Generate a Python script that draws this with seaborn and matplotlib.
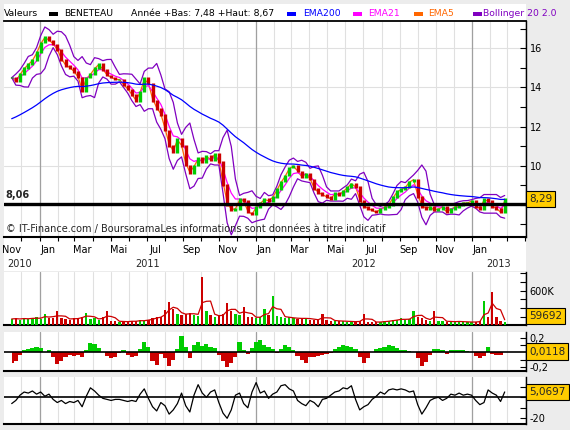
import numpy as np
import pandas as pd
import matplotlib
matplotlib.use('Agg')
import matplotlib.pyplot as plt
import matplotlib.dates as mdates
import matplotlib.ticker as mticker
from matplotlib.patches import Rectangle
from matplotlib.transforms import blended_transform_factory
import seaborn as sns

# Weekly values (BENETEAU, Nov 2010 - Feb 2013)
dates = pd.date_range('2010-11-15', periods=120, freq='7D')

closes = [
    14.5, 14.3, 14.7, 15.0, 15.2, 15.4, 15.8, 16.3, 16.6, 16.4,
    16.2, 15.9, 15.4, 15.1, 15.0, 14.8, 14.5, 13.8, 14.5, 14.7,
    15.0, 15.2, 14.9, 14.6, 14.5, 14.4, 14.4, 14.1, 13.9, 13.6,
    13.3, 13.8, 14.5, 14.2, 13.3, 12.9, 12.6, 11.8, 11.0, 10.7,
    11.4, 11.0, 10.0, 9.6, 10.0, 10.4, 10.2, 10.5, 10.3, 10.6,
    10.2, 9.0, 8.0, 7.7, 7.8, 8.3, 8.2, 7.6, 7.5, 7.9,
    8.1, 8.3, 8.2, 8.4, 8.8, 9.2, 9.5, 9.9, 10.0, 9.7,
    9.4, 9.6, 9.3, 8.8, 8.6, 8.5, 8.4, 8.3, 8.6, 8.5,
    8.7, 8.9, 9.1, 8.9, 8.2, 7.9, 7.8, 7.7, 7.6, 7.8,
    7.9, 8.0, 8.4, 8.7, 8.8, 8.9, 9.2, 9.3, 8.4, 7.9,
    7.8, 7.9, 7.7, 7.8, 7.9, 7.6, 7.8, 7.9, 8.0, 8.1,
    8.1, 8.2, 7.9, 7.8, 8.3, 8.2, 7.9, 7.8, 7.6, 8.29,
]

volumes_k = [
    110, 120, 100, 130, 110, 120, 140, 110, 200, 120,
    130, 240, 120, 110, 100, 130, 120, 150, 210, 110,
    120, 100, 140, 240, 80, 70, 60, 70, 60, 80,
    70, 90, 80, 100, 130, 150, 140, 260, 400, 280,
    200, 180, 200, 220, 180, 170, 830, 250, 180, 150,
    170, 200, 380, 250, 200, 180, 320, 150, 140, 130,
    150, 280, 180, 510, 170, 150, 130, 140, 120, 110,
    130, 120, 100, 100, 90, 200, 100, 80, 70, 80,
    70, 60, 70, 60, 70, 200, 60, 50, 60, 60,
    70, 80, 90, 100, 120, 90, 110, 250, 150, 120,
    100, 80, 250, 80, 70, 60, 70, 60, 70, 60,
    50, 60, 60, 70, 420, 150, 575, 150, 80, 60,
]

macd_hist = [
    -0.15, -0.12, -0.04, 0.03, 0.05, 0.06, 0.07, 0.06, 0.0, 0.03,
    -0.06, -0.16, -0.12, -0.07, -0.04, -0.05, -0.04, -0.06, 0.03, 0.13,
    0.12, 0.06, 0.0, -0.05, -0.08, -0.06, -0.01, 0.03, -0.04, -0.06,
    -0.05, 0.05, 0.14, 0.08, -0.12, -0.17, -0.02, -0.08, -0.19, -0.10,
    0.04, 0.23, 0.08, -0.08, 0.10, 0.15, 0.09, 0.11, 0.07, 0.06,
    -0.04, -0.12, -0.21, -0.15, -0.06, 0.14, 0.03, -0.02, 0.06, 0.14,
    0.17, 0.10, 0.07, 0.04, -0.01, 0.05, 0.10, 0.08, 0.03, -0.05,
    -0.10, -0.15, -0.07, -0.06, -0.05, -0.03, -0.02, -0.01, 0.05, 0.07,
    0.10, 0.09, 0.07, 0.05, -0.06, -0.15, -0.08, 0.01, 0.04, 0.06,
    0.08, 0.10, 0.09, 0.06, 0.03, 0.03, 0.02, 0.01, -0.08, -0.19,
    -0.13, -0.04, 0.04, 0.04, 0.03, -0.02, 0.03, 0.03, 0.03, 0.03,
    0.02, 0.01, -0.05, -0.08, -0.05, 0.07, -0.02, -0.03, -0.04, 0.0118,
]

momentum = [
    -6, -3, 2, 5, 4, 6, 3, 5, 1, 3,
    -2, -5, -3, -6, -4, -5, -3, -9, 1, 9,
    6, 2, -1, -2, -3, -2, -2, -3, -4, -3,
    -4, 3, 8, -1, -9, -13, -5, -8, -16, -12,
    -6, 4, -8, -14, 2, 12, 4, 0, 5, 7,
    -5, -15, -20, -12, 2, 4, -6, -10, 5, 14,
    4, 6, -1, 3, 5, 11, 12, 8, 6, -3,
    -6, -8, -3, -5, -9, -2, -1, 2, 5, 6,
    9, 8, 11, -2, -12, -9, -7, -2, 1, 5,
    3, 7, 8, 7, 8, 7, 5, 6, -7, -16,
    -10, -3, -1, 0, -3, -1, 3, 2, 4, 2,
    3, 2, -3, -7, -5, 7, 4, 2, -4, 5.0697,
]

ema200_start = 12.4
ref_line = 8.06
last_volume = 59692
month_names = {1: 'Jan', 3: 'Mar', 5: 'Mai', 7: 'Jul', 9: 'Sep', 11: 'Nov'}
month_label_dates = pd.date_range('2010-11-01', '2013-01-01', freq='2MS') + pd.Timedelta(days=14)
year_labels = ['2010', '2011', '2012', '2013']
year_pos = pd.to_datetime(['2010-11-28', '2011-07-02', '2012-07-01', '2013-02-14'])

GREEN = '#00cc00'
RED = '#cc0000'

df = pd.DataFrame({'date': dates, 'close': closes, 'vol': np.array(volumes_k) * 1000,
                   'macd': macd_hist, 'mom': momentum})
df['open'] = df['close'].shift(1).fillna(df['close'])
df['up'] = df['close'] >= df['open']

# indicators (daily periods converted to weeks)
ema = [ema200_start]
for c in df['close'][1:]:
    ema.append(ema[-1] + 2 / 41 * (c - ema[-1]))
df['ema200'] = ema
df['ema21'] = df['close'].ewm(span=4.3, adjust=False).mean()
df['ema5'] = df['close'].ewm(span=1.3, adjust=False).mean()
mid = df['close'].rolling(4, min_periods=1).mean()
sd = df['close'].rolling(4, min_periods=2).std(ddof=1).fillna(0)
df['bb_up'] = mid + 2 * sd
df['bb_dn'] = mid - 2 * sd
df['vol_ma'] = df['vol'].rolling(3, min_periods=1).mean()

sns.set_theme(style='white')
plt.rcParams['font.family'] = ['DejaVu Sans']
plt.rcParams['font.size'] = 7

W, H = 570, 430
fig = plt.figure(figsize=(W / 100, H / 100), dpi=100, facecolor='#ececec')


def fx(x):
    return x / W


def fy(y):
    return 1 - y / H


def panel(top, bottom):
    ax = fig.add_axes([fx(4), fy(bottom), (526 - 4) / W, (bottom - top) / H])
    ax.set_facecolor('white')
    return ax


fig.add_artist(Rectangle((fx(4), fy(271)), (526 - 4) / W, (271 - 4) / H,
                         transform=fig.transFigure, fc='white', ec='none', zorder=0))

ax = panel(20.7, 237.3)
ax_vol = panel(272, 325.3)
ax_macd = panel(332, 371)
ax_mom = panel(377, 424.3)
axes = [ax, ax_vol, ax_macd, ax_mom]

# price panel
lo = np.minimum(df['open'], df['close'])
hi = np.maximum(df['open'], df['close'])
cols = np.where(df['up'], GREEN, RED)
sns.lineplot(x=df['date'], y=df['ema5'], ax=ax, color='#ff6600', lw=0.9, zorder=2)
sns.lineplot(x=df['date'], y=df['ema21'], ax=ax, color='#ff00ff', lw=0.9, zorder=2)
sns.lineplot(x=df['date'], y=df['bb_up'], ax=ax, color='#8000c0', lw=0.9, zorder=2)
sns.lineplot(x=df['date'], y=df['bb_dn'], ax=ax, color='#8000c0', lw=0.9, zorder=2)
ax.vlines(df['date'], lo - 0.04, hi + 0.04, colors=cols, lw=2.4, zorder=3)
sns.lineplot(x=df['date'], y=df['ema200'], ax=ax, color='#0000ff', lw=0.9, zorder=4)
ax.axhline(ref_line, color='black', lw=2.4, zorder=5)
ax.annotate('8,06', xy=(0, ref_line), xycoords=blended_transform_factory(ax.transAxes, ax.transData),
            xytext=(1, 2.5), textcoords='offset points', va='bottom', ha='left',
            fontsize=7, fontweight='bold', zorder=6)
ax.text(2 / 522, 0.038, '© IT-Finance.com / BoursoramaLes informations sont données à titre indicatif',
        transform=ax.transAxes, va='center', ha='left', fontsize=7)
ax.set_ylim(6.34, 17.41)
ax.set_yticks([8, 10, 12, 14, 16])
ax.set_yticklabels(['', '10', '12', '14', '16'])
ax.set_yticks([7, 9, 11, 13, 15, 17], minor=True)
ax.yaxis.grid(True, which='major', color='#e0e0e0', lw=0.8)

# volume panel
ax_vol.bar(df['date'], df['vol'], width=4, color=cols, lw=0, zorder=3)
sns.lineplot(x=df['date'], y=df['vol_ma'], ax=ax_vol, color=RED, lw=0.9, zorder=4)
ax_vol.set_ylim(0, 925000)
ax_vol.set_yticks([600000])
ax_vol.set_yticklabels(['600K'])
ax_vol.set_yticks([150000, 300000, 450000, 750000, 900000], minor=True)

# macd panel
m = df['macd'].values
ax_macd.fill_between(df['date'], 0, np.clip(m, 0, None), step='mid', color=GREEN, lw=0, zorder=3)
ax_macd.fill_between(df['date'], 0, np.clip(m, None, 0), step='mid', color=RED, lw=0, zorder=3)
ax_macd.axhline(0, color='black', lw=1.2, zorder=4)
ax_macd.set_ylim(-0.26, 0.284)
ax_macd.set_yticks([-0.2, 0.2])
ax_macd.set_yticklabels(['-0,2', '0,2'])
ax_macd.set_yticks([-0.1, 0.1], minor=True)

# momentum panel
sns.lineplot(x=df['date'], y=df['mom'], ax=ax_mom, color='black', lw=0.9, zorder=4)
ax_mom.axhline(0, color='black', lw=1.2, zorder=3)
ax_mom.set_ylim(-25.7, 19.3)
ax_mom.set_yticks([-20])
ax_mom.set_yticklabels(['-20'])
ax_mom.set_yticks([-10, 0, 10], minor=True)

for a in axes:
    a.set_xlim(pd.Timestamp('2010-11-02'), pd.Timestamp('2013-04-02'))
    a.set_xlabel('')
    a.set_ylabel('')
    a.xaxis.set_major_locator(mdates.MonthLocator())
    a.xaxis.set_major_formatter(mticker.NullFormatter())
    a.grid(True, axis='x', which='major', color='#e0e0e0', lw=0.8)
    a.set_axisbelow(True)
    for yr in ['2011', '2012', '2013']:
        a.axvline(pd.Timestamp(yr + '-01-01'), color='#a0a0a0', lw=0.9, zorder=1)
    a.yaxis.set_ticks_position('right')
    a.tick_params(axis='y', which='both', direction='in', length=4, width=0.8,
                  colors='black', labelsize=7, pad=2.5, right=True, left=False)
    for s in ['left', 'top']:
        a.spines[s].set_visible(False)
    a.spines['right'].set_color('black')
    a.spines['right'].set_linewidth(1)
    a.spines['bottom'].set_color('black')
    a.spines['bottom'].set_linewidth(1.5)
    if a is not ax:
        a.tick_params(axis='x', which='both', length=0, labelbottom=False)

ax.spines['top'].set_visible(True)
ax.spines['top'].set_color('black')
ax.spines['top'].set_linewidth(1.3)
ax.xaxis.set_minor_locator(mticker.FixedLocator(mdates.date2num(month_label_dates)))
ax.xaxis.set_minor_formatter(mticker.FuncFormatter(lambda v, p: month_names.get(mdates.num2date(v).month, '')))
ax.tick_params(axis='x', which='major', direction='out', length=3, width=0.8, color='black', bottom=True)
ax.tick_params(axis='x', which='minor', length=0, pad=5.5, labelsize=7, labelcolor='black', bottom=True)
xt = blended_transform_factory(ax.transData, ax.transAxes)
for lab, pos in zip(year_labels, year_pos):
    ax.text(pos, -0.123, lab, transform=xt, ha='center', va='center', fontsize=7)

# last value boxes
box = dict(boxstyle='square,pad=0.3', fc='#ffcc00', ec='black', lw=0.8)


def last_box(a, y, txt, coords='data'):
    tr = blended_transform_factory(a.transAxes, a.transData if coords == 'data' else a.transAxes)
    a.text(1 + 3 / 522, y, txt, transform=tr, ha='left', va='center', fontsize=7.5, bbox=box, zorder=10)


last_box(ax, closes[-1], '8,29')
last_box(ax_vol, 0.175, str(last_volume), coords='axes')
last_box(ax_macd, macd_hist[-1], '0,0118')
last_box(ax_mom, momentum[-1], '5,0697')

# header
ty = fy(13.5)
hs = 6.7
fig.text(fx(4), ty, 'Valeurs', ha='left', va='center', fontsize=hs, color='black')
header = [(49, 64, 'BENETEAU', 'black'), (287, 303, 'EMA200', '#0000ff'), (353, 368, 'EMA21', '#ff00ff'),
          (414, 428, 'EMA5', '#ff6600'), (473, 483, 'Bollinger 20 2.0', '#8000c0')]
for sx, tx, txt, c in header:
    fig.add_artist(Rectangle((fx(sx), fy(15.5)), 8.5 / W, 3.5 / H, transform=fig.transFigure,
                             fc=c, ec='none', zorder=5))
    fig.text(fx(tx), ty, txt, ha='left', va='center', fontsize=hs, color=c)
fig.text(fx(131), ty, 'Année +Bas: 7,48 +Haut: 8,67', ha='left', va='center', fontsize=hs, color='black')

fig.savefig('out.png', dpi=100, facecolor=fig.get_facecolor())
